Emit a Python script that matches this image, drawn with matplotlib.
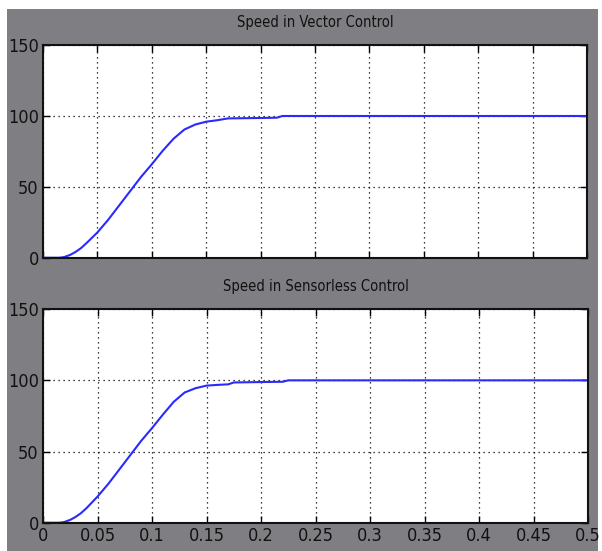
import matplotlib
matplotlib.use('Agg')
import matplotlib.pyplot as plt
from matplotlib.patches import Rectangle
from matplotlib import font_manager

# Data --------------------------------------------------------------------------------------
t_vec = [0, 0.015, 0.02, 0.025, 0.03, 0.035, 0.04, 0.05, 0.06, 0.07, 0.08, 0.09, 0.1,
         0.11, 0.12, 0.13, 0.14, 0.15, 0.16, 0.17, 0.2, 0.215, 0.22, 0.5]
speed_vec = [0, 0, 0.8, 2.2, 4.3, 7, 10.5, 18, 27, 37, 47, 57, 66,
             75.5, 84, 90.5, 94, 96, 97, 98.3, 98.6, 98.8, 100, 100]

t_sl = [0, 0.015, 0.02, 0.025, 0.03, 0.035, 0.04, 0.05, 0.06, 0.07, 0.08, 0.09, 0.1,
        0.11, 0.12, 0.13, 0.14, 0.15, 0.16, 0.17, 0.175, 0.2, 0.22, 0.225, 0.5]
speed_sl = [0, 0, 0.8, 2.2, 4.3, 7, 10.5, 18.5, 27.5, 37.5, 47.5, 57.5, 66.5,
            76, 85, 91.5, 94.5, 96.3, 96.8, 97.2, 98.5, 98.8, 99, 100, 100]

titles = ['Speed in Vector Control', 'Speed in Sensorless Control']
xticks = [0, 0.05, 0.1, 0.15, 0.2, 0.25, 0.3, 0.35, 0.4, 0.45, 0.5]
xticklabels = ['0', '0.05', '0.1', '0.15', '0.2', '0.25', '0.3', '0.35', '0.4', '0.45', '0.5']
yticks = [0, 50, 100, 150]

# Aesthetics --------------------------------------------------------------------------------
condensed = [f for f in font_manager.fontManager.ttflist
             if f.stretch in ('condensed', 'semi-condensed', 'extra-condensed', 'ultra-condensed')]
if condensed:
    plt.rcParams['font.family'] = [condensed[0].name, 'DejaVu Sans']
    plt.rcParams['font.stretch'] = condensed[0].stretch
else:
    plt.rcParams['font.family'] = ['Liberation Sans', 'DejaVu Sans']

grey = '#7f7e82'
fs = 13

fig = plt.figure(figsize=(6.02, 5.51), dpi=100, facecolor='white')
# scope window background
fig.patches.append(Rectangle((7 / 602, 0), 591 / 602, 542 / 551, transform=fig.transFigure,
                             facecolor=grey, edgecolor='none', zorder=-10))

ax_top = fig.add_axes([43 / 602, 293 / 551, 544 / 602, 213 / 551])
ax_bot = fig.add_axes([43 / 602, 28 / 551, 545 / 602, 214 / 551])

for ax, t, v, title in [(ax_top, t_vec, speed_vec, titles[0]), (ax_bot, t_sl, speed_sl, titles[1])]:
    ax.plot(t, v, color='#2a2aff', linewidth=1.5)
    ax.plot(t[:2], v[:2], color='#00008b', linewidth=2.5)  # darker start where trace sits on the axis
    ax.set_xlim(0, 0.5)
    ax.set_ylim(0, 150)
    ax.set_xticks(xticks)
    ax.set_yticks(yticks)
    ax.set_yticklabels([str(y) for y in yticks], fontsize=fs)
    ax.grid(True, color='black', linestyle=(0, (1, 3)), linewidth=0.9)
    ax.tick_params(direction='in', length=5, width=1, top=True, right=True, pad=3,
                   colors='black', labelcolor='#111111')
    for sp in ax.spines.values():
        sp.set_linewidth(1.5)
        sp.set_color('#111111')
    ax.set_title(title, fontsize=10.5, pad=13, color='#111111')
    ax.set_facecolor('white')

ax_top.set_xticklabels([])
ax_bot.set_xticklabels(xticklabels, fontsize=fs)

fig.savefig('out.png', dpi=100, facecolor='white')
